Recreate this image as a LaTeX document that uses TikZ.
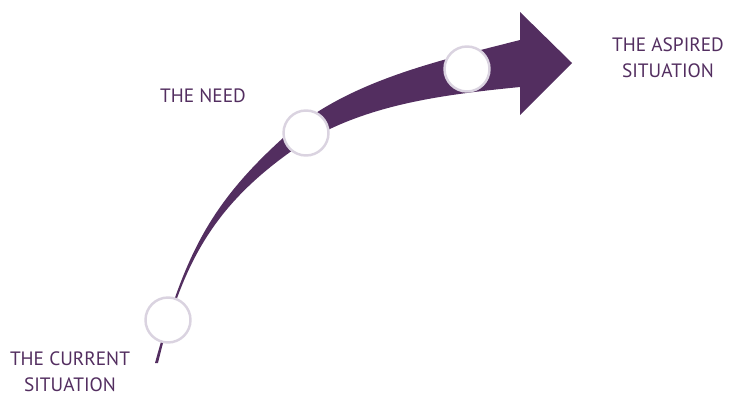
\documentclass[tikz,border=0pt]{standalone}
\usepackage{fontspec}
\setmainfont{PT Sans}
\definecolor{pathplum}{HTML}{532E60}
\definecolor{pathring}{HTML}{DAD3E0}
\tikzset{
  stage ring/.style={circle, draw=pathring, fill=white, line width=1.4pt,
    minimum size=0.9cm, inner sep=0pt},
  stage label/.style={font=\fontsize{11}{15}\selectfont, text=pathplum,
    align=center},
}

\begin{document}
\begin{tikzpicture}[x=0.02cm, y=-0.02cm]
  \useasboundingbox (0,0) rectangle (729,395);

  % curved arrow, widening towards the head
  \fill[pathplum] (155,363) .. controls (184,257) and (209,205) .. (283,138)
    .. controls (346,81) and (438,61) .. (520,40)
    -- (520,12) -- (572,63) -- (520,115) -- (520,87)
    .. controls (440,95) and (359,105) .. (293,150)
    .. controls (215,205) and (182,262) .. (158,363)
    -- cycle;

  \node[stage ring] (now) at (168,320) {};
  \node[stage ring] (need) at (306,133) {};
  \node[stage ring] (goal) at (467,69) {};

  \node[stage label] (nowlabel) at (70,372) {THE CURRENT\\SITUATION};
  \node[stage label] (needlabel) at (203,96) {THE NEED};
  \node[stage label] (goallabel) at (668,58) {THE ASPIRED\\SITUATION};
\end{tikzpicture}
\end{document}
